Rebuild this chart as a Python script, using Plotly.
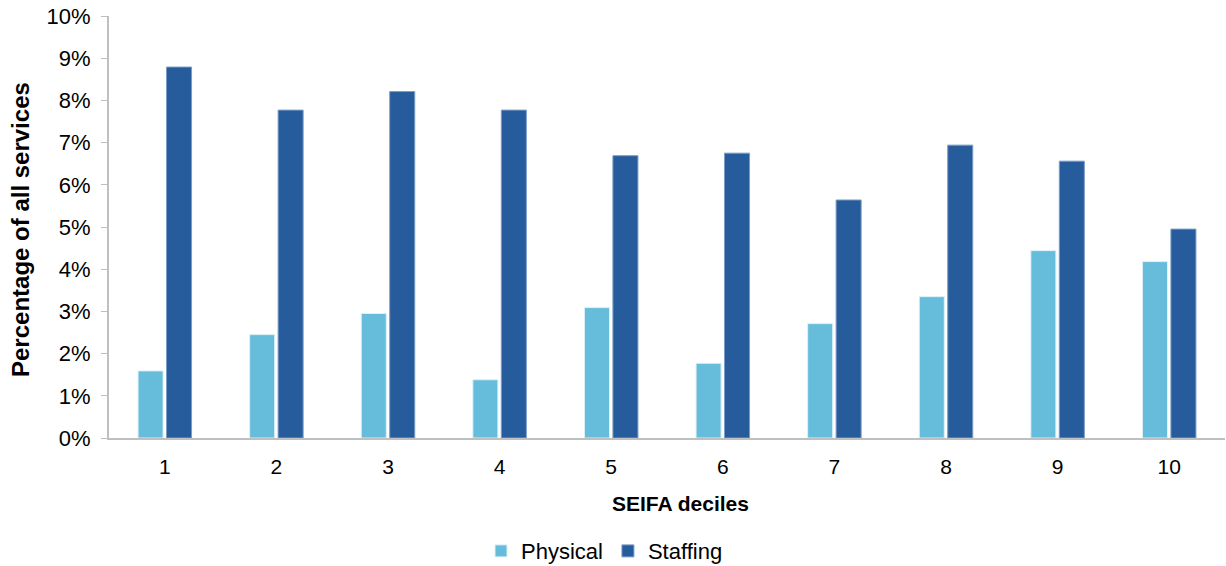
import plotly.graph_objects as go

deciles = ["1", "2", "3", "4", "5", "6", "7", "8", "9", "10"]
physical = [1.59, 2.45, 2.95, 1.38, 3.09, 1.77, 2.71, 3.35, 4.44, 4.18]
staffing = [8.79, 7.77, 8.21, 7.77, 6.69, 6.75, 5.64, 6.94, 6.56, 4.95]
yticks = [0, 1, 2, 3, 4, 5, 6, 7, 8, 9, 10]
yticklabels = [f"{v}%" for v in yticks]

FONT = "Liberation Sans, Arial, sans-serif"

fig = go.Figure()
fig.add_trace(go.Bar(x=deciles, y=physical, name="Physical",
                     marker=dict(color="#66BCDB", line=dict(color="#DDF0F8", width=1))))
fig.add_trace(go.Bar(x=deciles, y=staffing, name="Staffing",
                     marker=dict(color="#275C9C", line=dict(color="#7A9CC6", width=1))))

fig.update_layout(
    width=1226, height=566,
    margin=dict(l=109, r=1, t=16, b=128, autoexpand=False),
    paper_bgcolor="white", plot_bgcolor="white",
    barmode="group", bargap=0.49, bargroupgap=0.12,
    font=dict(family=FONT, size=21, color="#000000"),
    showlegend=True,
    legend=dict(orientation="h", x=0.444, xanchor="center", y=-0.268, yanchor="middle",
                font=dict(size=22), traceorder="normal", itemwidth=30),
    xaxis=dict(
        showline=True, linecolor="#BFBFBF", linewidth=2, ticks="",
        tickfont=dict(size=21), showgrid=False, automargin=False,
        ticklabelstandoff=9,
    ),
    yaxis=dict(
        range=[0, 10], tickvals=yticks, ticktext=yticklabels,
        showline=True, linecolor="#BFBFBF", linewidth=2, ticks="outside",
        tickcolor="#BFBFBF", ticklen=6, tickwidth=1, showgrid=False, zeroline=False,
        tickfont=dict(size=22), automargin=False, ticklabelstandoff=6,
    ),
    annotations=[
        dict(text="<b>Percentage of all services</b>", xref="paper", yref="paper",
             x=0, y=0.5, xanchor="center", yanchor="middle", xshift=-89, yshift=-3,
             textangle=-90, showarrow=False, font=dict(size=24)),
        dict(text="<b>SEIFA deciles</b>", xref="paper", yref="paper",
             x=0.5, y=0, xanchor="center", yanchor="middle", xshift=13, yshift=-65,
             showarrow=False, font=dict(size=21)),
    ],
)

fig.write_html("out.html",
               config={"displayModeBar": False},
               post_script="document.body.style.margin='0px';document.body.style.overflow='hidden';")
